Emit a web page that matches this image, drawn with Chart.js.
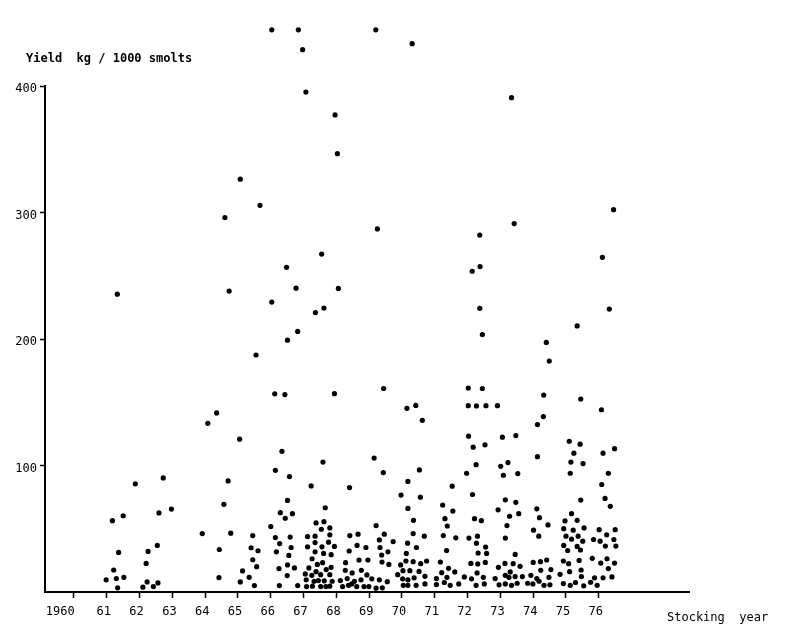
<!DOCTYPE html>
<html>
<head>
<meta charset="utf-8">
<script src="https://cdn.jsdelivr.net/npm/chart.js@4.4.0/dist/chart.umd.min.js"></script>
<style>
  body { margin: 0; background: #fff; }
  canvas { display: block; }
</style>
</head>
<body>
<canvas id="myChart" width="800" height="637"></canvas>
<script>
// stocking year (x) / yield kg per 1000 smolts (y), grouped by cohort
const cohort61to63 = [[61.32,235.5],[61.21,17.4],[60.98,9.6],[61.29,10.6],[61.52,11.6],[61.17,56.4],[61.50,60.3],[61.36,31.3],[61.33,3.3],[61.87,85.5],
    [62.26,32.1],[62.20,22.6],[62.23,8.0],[62.10,3.8],[62.42,4.3],[62.56,7.2],[62.54,36.8],[62.59,62.5],[62.72,90.2],[62.97,65.6]];
const cohort64to65 = [[63.91,46.2],[64.08,133.4],[64.35,141.6],[64.43,33.6],[64.42,11.4],[64.57,69.3],[64.70,87.8],[64.78,46.5],[64.60,296],[64.73,237.9],
    [65.05,120.8],[65.07,326.4],[65.14,16.7],[65.07,8.0],[65.34,11.6],[65.40,35.0],[65.45,44.6],[65.45,25.5],[65.50,5.1],[65.57,20.0],[65.61,32.6],[65.55,187.4],[65.67,305.7]];
const cohort66 = [[66.03,444.5],[66.03,229.2],[66.12,156.7],[66.14,96.2],[66.00,51.7],[66.14,43.0],[66.17,31.8],[66.27,38.3],[66.25,18.5],[66.26,5.1],
    [66.29,62.7],[66.34,111.2],[66.43,156.1],[66.44,58.3],[66.48,256.7],[66.51,199.1],[66.51,72.4],[66.51,21.4],[66.50,13.0],[66.55,28.9],
    [66.57,91.3],[66.59,43.4],[66.62,35.2],[66.66,61.9],[66.72,19.0],[66.77,240.2],[66.82,206],[66.82,5.1],[66.84,444.5],[66.97,428.8],[67.07,395.3]];
const cohort67 = [[67.12,43.8],[67.12,35.7],[67.16,19.0],[67.05,14.3],[67.08,9.6],[67.09,4.3],[67.23,83.9],[67.35,44.1],[67.38,54.6],[67.35,39.1],
    [67.35,31.8],[67.26,26.3],[67.42,21.8],[67.38,16.1],[67.25,13.2],[67.32,8.5],[67.27,4.6],[67.36,220.9],[67.55,267.2],[67.62,224.5],
    [67.59,102.7],[67.62,55.6],[67.66,66.6],[67.54,49.6],[67.56,35.7],[67.61,30.5],[67.58,23.2],[67.52,13.7],[67.45,9.0],[67.63,8.8],
    [67.52,4.3],[67.69,17.7],[67.68,4.3],[67.80,50.7],[67.80,45.2],[67.76,39.4],[67.84,29.5],[67.84,19.5],[67.80,13.7],[67.87,8.5],
    [67.80,4.6],[67.94,36.0],[67.96,377.2],[68.03,346.6],[68.06,240.0],[67.94,156.8]];
const cohort68to69 = [[68.12,9.0],[68.19,4.3],[68.28,23.2],[68.27,17.1],[68.33,10.6],[68.37,5.3],[68.40,82.6],[68.39,32.4],[68.41,44.6],[68.48,15.1],
    [68.47,6.4],[68.55,8.5],[68.62,4.3],[68.63,36.8],[68.66,45.7],[68.69,25.3],[68.76,17.1],[68.75,9.6],[68.84,4.3],[68.90,35.2],
    [68.93,13.5],[68.96,25.3],[68.99,4.3],[69.08,10.4],[69.15,105.9],[69.20,444.5],[69.25,287.1],[69.21,52.5],[69.21,3.0],[69.31,41.2],
    [69.31,9.6],[69.33,35.2],[69.38,29.2],[69.39,23.7],[69.40,3.3],[69.43,94.4],[69.44,160.9],[69.46,45.7],[69.55,8.2],[69.57,31.8],
    [69.60,21.8],[69.73,39.9],[69.87,13.7]];
const cohort70 = [[69.96,21.4],[69.97,76.6],[70.03,16.9],[70.02,10.4],[70.04,5.3],[70.13,30.5],[70.12,24.5],[70.15,145.2],[70.18,87.4],[70.18,66.1],
    [70.17,38.6],[70.18,9.6],[70.18,5.3],[70.31,433.5],[70.42,147.5],[70.35,56.7],[70.34,46.2],[70.44,35.2],[70.34,24.0],[70.24,16.9],
    [70.37,11.2],[70.43,5.3],[70.53,96.5],[70.56,75.0],[70.52,16.3],[70.57,22.4],[70.62,135.7],[70.68,44.1],[70.75,24.5],[70.70,12.4],[70.70,6.4]];
const cohort71 = [[71.05,10.6],[71.05,5.9],[71.17,23.7],[71.21,15.3],[71.24,68.7],[71.26,44.6],[71.29,7.5],[71.31,58.0],[71.38,52.2],[71.36,32.8],
    [71.37,11.6],[71.42,18.7],[71.47,5.3],[71.53,83.7],[71.55,64.0],[71.64,42.8],[71.61,15.9],[71.73,6.4],[71.90,11.9]];
const cohort72 = [[71.97,93.9],[72.02,147.3],[72.03,123.2],[72.04,42.6],[72.10,22.6],[72.12,10.4],[72.02,161.2],[72.14,253.6],[72.15,77.1],[72.17,114.5],
    [72.21,58.0],[72.26,100.7],[72.27,147.1],[72.30,44.1],[72.27,38.6],[72.32,30.8],[72.31,22.2],[72.29,15.1],[72.26,5.3],[72.37,282.2],
    [72.38,257.3],[72.37,224.3],[72.45,203.6],[72.45,160.9],[72.42,56.4],[72.53,116.4],[72.56,147.3],[72.55,35.5],[72.58,30.5],[72.54,23.4],
    [72.48,11.6],[72.51,6.4]];
const cohort73 = [[72.84,10.6],[72.91,147.3],[72.93,65.0],[72.94,19.5],[72.96,5.7],[73.01,99.4],[73.06,122.4],[73.09,92.3],[73.15,72.9],[73.15,42.6],
    [73.14,22.6],[73.15,13.2],[73.15,6.4],[73.23,102.3],[73.28,59.9],[73.20,52.5],[73.26,11.6],[73.30,15.9],[73.34,390.8],[73.42,291.3],
    [73.47,123.7],[73.47,70.9],[73.45,29.7],[73.39,22.4],[73.45,12.2],[73.34,5.3],[73.53,93.6],[73.56,61.9],[73.51,6.9],[73.60,20.3],
    [73.67,12.2],[73.83,6.9]];
const cohort74 = [[73.93,13.2],[74.00,23.4],[74.01,48.9],[73.99,6.4],[74.11,65.8],[74.13,107.0],[74.13,132.4],[74.11,10.6],[74.17,44.1],[74.19,58.8],
    [74.18,8.5],[74.22,24.0],[74.23,17.1],[74.31,138.7],[74.32,155.7],[74.33,5.3],[74.40,197.3],[74.41,25.3],[74.45,53.0],[74.49,182.6],
    [74.48,11.6],[74.54,17.7],[74.51,5.7]];
const cohort75 = [[74.82,14.0],[74.92,24.5],[74.93,50.1],[74.93,36.8],[74.92,6.7],[74.97,56.2],[75.00,44.1],[75.05,32.8],[75.08,22.4],[75.10,119.2],
    [75.11,16.1],[75.13,93.9],[75.15,102.7],[75.13,5.3],[75.17,61.9],[75.17,41.8],[75.22,48.9],[75.24,109.8],[75.29,7.5],[75.34,56.7],
    [75.34,210.4],[75.34,36.0],[75.37,44.1],[75.40,25.0],[75.43,116.9],[75.45,152.6],[75.45,72.7],[75.44,33.2],[75.46,17.4],[75.47,12.2],
    [75.52,101.5],[75.51,40.2],[75.55,50.7],[75.54,4.9]];
const cohort76 = [[75.75,7.7],[75.80,26.6],[75.84,41.5],[75.87,11.2],[75.95,5.3],[76.01,49.3],[76.04,40.2],[76.06,22.9],[76.08,144.1],[76.11,264.6],
    [76.09,85.0],[76.13,109.8],[76.13,11.2],[76.19,74.0],[76.20,36.3],[76.24,45.2],[76.25,26.3],[76.29,93.9],[76.29,18.5],[76.32,223.7],
    [76.35,67.7],[76.40,11.9],[76.45,302.3],[76.48,113.3],[76.46,41.5],[76.48,22.9],[76.50,49.3],[76.52,36.3]];

const yearTicks = [60, 61, 62, 63, 64, 65, 66, 67, 68, 69, 70, 71, 72, 73, 74, 75, 76];
const yearLabels = ['1960   ', '61', '62', '63', '64', '65', '66', '67', '68', '69', '70', '71', '72', '73', '74', '75', '76'];
const yieldTicks = [100, 200, 300, 400];

const allPoints = [].concat(cohort61to63, cohort64to65, cohort66, cohort67, cohort68to69, cohort70,
    cohort71, cohort72, cohort73, cohort74, cohort75, cohort76).map(([x, y]) => ({x, y}));

const FONT = '"DejaVu Sans Mono", monospace';

// the y axis line stops at 400 while a few points sit above it
const axisLines = {
    id: 'axisLines',
    afterDraw(chart) {
        const c = chart.ctx;
        const y = chart.scales.y;
        c.save();
        c.strokeStyle = '#000';
        c.lineWidth = 2;
        c.beginPath();
        c.moveTo(y.right, y.getPixelForValue(0) + 1);
        c.lineTo(y.right, y.getPixelForValue(400) - 1);
        c.stroke();

        c.fillStyle = '#000';
        c.textBaseline = 'middle';
        c.textAlign = 'left';
        c.font = 'bold 12px ' + FONT;
        c.fillText('Yield  kg / 1000 smolts', 26, 59);
        c.font = '12px ' + FONT;
        c.fillText('Stocking  year', 667, 618);
        c.restore();
    }
};

const ctx = document.getElementById('myChart').getContext('2d');

const myChart = new Chart(ctx, {
    type: 'scatter',
    data: {
        datasets: [{
            data: allPoints,
            backgroundColor: '#000',
            borderWidth: 0,
            pointRadius: 2.6,
            pointHoverRadius: 2.6,
            clip: false,
        }]
    },
    options: {
        responsive: false,
        animation: false,
        devicePixelRatio: 1,
        layout: {
            padding: { top: 6, right: 111, left: 0, bottom: 0 }
        },
        scales: {
            x: {
                type: 'linear',
                min: 59.116,
                max: 78.75,
                afterBuildTicks: (scale) => {
                    scale.ticks = yearTicks.map(v => ({ value: v }));
                },
                afterFit: (scale) => { scale.height = 45; },
                ticks: {
                    callback: (value) => yearLabels[yearTicks.indexOf(value)],
                    font: { family: FONT, size: 12 },
                    color: '#000',
                    padding: 7,
                    maxRotation: 0,
                    autoSkip: false,
                    labelOffset: -3,
                },
                grid: {
                    drawOnChartArea: false,
                    tickLength: 6,
                    tickWidth: 1.5,
                    tickColor: '#000',
                },
                border: { color: '#000', width: 2 },
            },
            y: {
                min: 0,
                max: 460,
                afterBuildTicks: (scale) => {
                    scale.ticks = yieldTicks.map(v => ({ value: v }));
                },
                afterFit: (scale) => { scale.width = 45; },
                ticks: {
                    font: { family: FONT, size: 12 },
                    color: '#000',
                    padding: 3,
                    labelOffset: 3,
                },
                grid: {
                    drawOnChartArea: false,
                    tickLength: 5,
                    tickWidth: 1.5,
                    tickColor: '#000',
                },
                border: { display: false },
            },
        },
        plugins: {
            legend: { display: false },
            tooltip: { enabled: false },
        }
    },
    plugins: [axisLines],
});
</script>
</body>
</html>
